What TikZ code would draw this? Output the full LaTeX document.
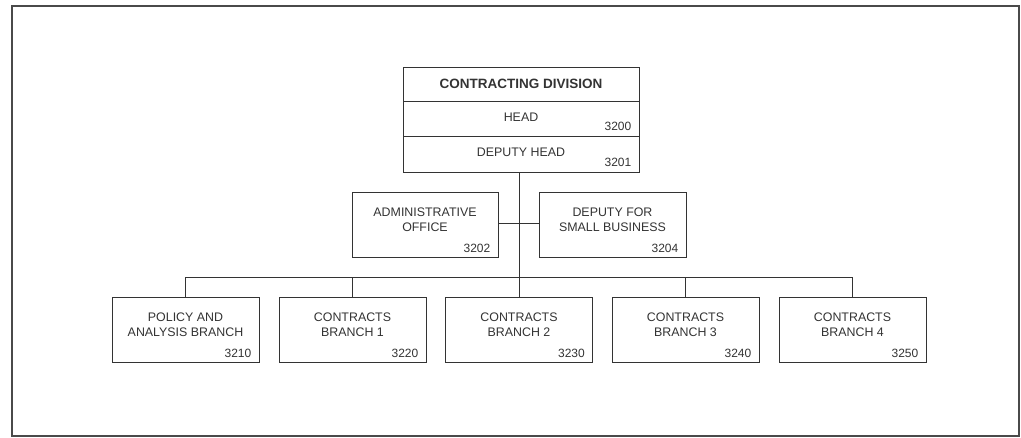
\documentclass[tikz,border=0pt]{standalone}
\usepackage{fontspec}
\setmainfont{Liberation Sans}
\definecolor{ink}{HTML}{333333}
\definecolor{frame}{HTML}{4A4A4A}
\tikzset{
  box/.style={draw=ink, line width=1pt, inner sep=0pt, minimum width=147pt, minimum height=65pt},
  sect/.style={draw=ink, line width=1pt, inner sep=0pt, minimum width=236pt},
  lbl/.style={text=ink, align=center, inner sep=0pt, font=\fontsize{12.4}{15}\selectfont},
  num/.style={text=ink, inner sep=0pt, anchor=base east, font=\fontsize{12}{15}\selectfont},
  conn/.style={draw=ink, line width=1pt}
}
\begin{document}
\begin{tikzpicture}[x=1pt,y=-1pt]
\useasboundingbox (0,0) rectangle (1021,437);
\draw[frame, line width=2pt] (12,6) rectangle (1019,436);

% top box
\node[sect, minimum height=34pt] (title) at (521,84) {};
\node[sect, minimum height=35pt] (head) at (521,118.5) {};
\node[sect, minimum height=36pt] (dep) at (521,154) {};
\node[lbl, font=\fontsize{13.5}{15}\selectfont\bfseries] (titlet) at (title.center) {CONTRACTING DIVISION};
\node[lbl] (headt) at ([yshift=1.5pt]head.center) {HEAD};
\node[num] (headn) at ([xshift=-8pt,yshift=6pt]head.south east) {3200};
\node[lbl] (dept) at ([yshift=1.5pt]dep.center) {DEPUTY HEAD};
\node[num] (depn) at ([xshift=-8pt,yshift=6pt]dep.south east) {3201};

% staff
\node[box, minimum width=146pt] (adm) at (425,224.5) {};
\node[lbl] (admt) at ([yshift=5pt]adm.center) {ADMINISTRATIVE\\OFFICE};
\node[num] (admn) at ([xshift=-8pt,yshift=5pt]adm.south east) {3202};
\node[box] (sb) at (612.5,224.5) {};
\node[lbl] (sbt) at ([yshift=5pt]sb.center) {DEPUTY FOR\\SMALL BUSINESS};
\node[num] (sbn) at ([xshift=-8pt,yshift=5pt]sb.south east) {3204};

% branches
\node[box] (b1) at (185.5,329.5) {};
\node[lbl] (b1t) at ([yshift=5pt]b1.center) {POLICY AND\\ANALYSIS BRANCH};
\node[num] (b1n) at ([xshift=-8pt,yshift=5pt]b1.south east) {3210};
\node[box] (b2) at (352.5,329.5) {};
\node[lbl] (b2t) at ([yshift=5pt]b2.center) {CONTRACTS\\BRANCH 1};
\node[num] (b2n) at ([xshift=-8pt,yshift=5pt]b2.south east) {3220};
\node[box] (b3) at (519,329.5) {};
\node[lbl] (b3t) at ([yshift=5pt]b3.center) {CONTRACTS\\BRANCH 2};
\node[num] (b3n) at ([xshift=-8pt,yshift=5pt]b3.south east) {3230};
\node[box] (b4) at (685.5,329.5) {};
\node[lbl] (b4t) at ([yshift=5pt]b4.center) {CONTRACTS\\BRANCH 3};
\node[num] (b4n) at ([xshift=-8pt,yshift=5pt]b4.south east) {3240};
\node[box] (b5) at (852.5,329.5) {};
\node[lbl] (b5t) at ([yshift=5pt]b5.center) {CONTRACTS\\BRANCH 4};
\node[num] (b5n) at ([xshift=-8pt,yshift=5pt]b5.south east) {3250};

% connectors
\coordinate (bus) at (519,277);
\draw[conn] (dep.south -| b3.north) -- (b3.north);
\draw[conn] (adm.east |- 0,223) -- (sb.west |- 0,223);
\draw[conn] (b1.north |- bus) -- (b5.north |- bus);
\draw[conn] (b1.north |- bus) -- (b1.north);
\draw[conn] (b2.north |- bus) -- (b2.north);
\draw[conn] (b4.north |- bus) -- (b4.north);
\draw[conn] (b5.north |- bus) -- (b5.north);
\end{tikzpicture}
\end{document}
